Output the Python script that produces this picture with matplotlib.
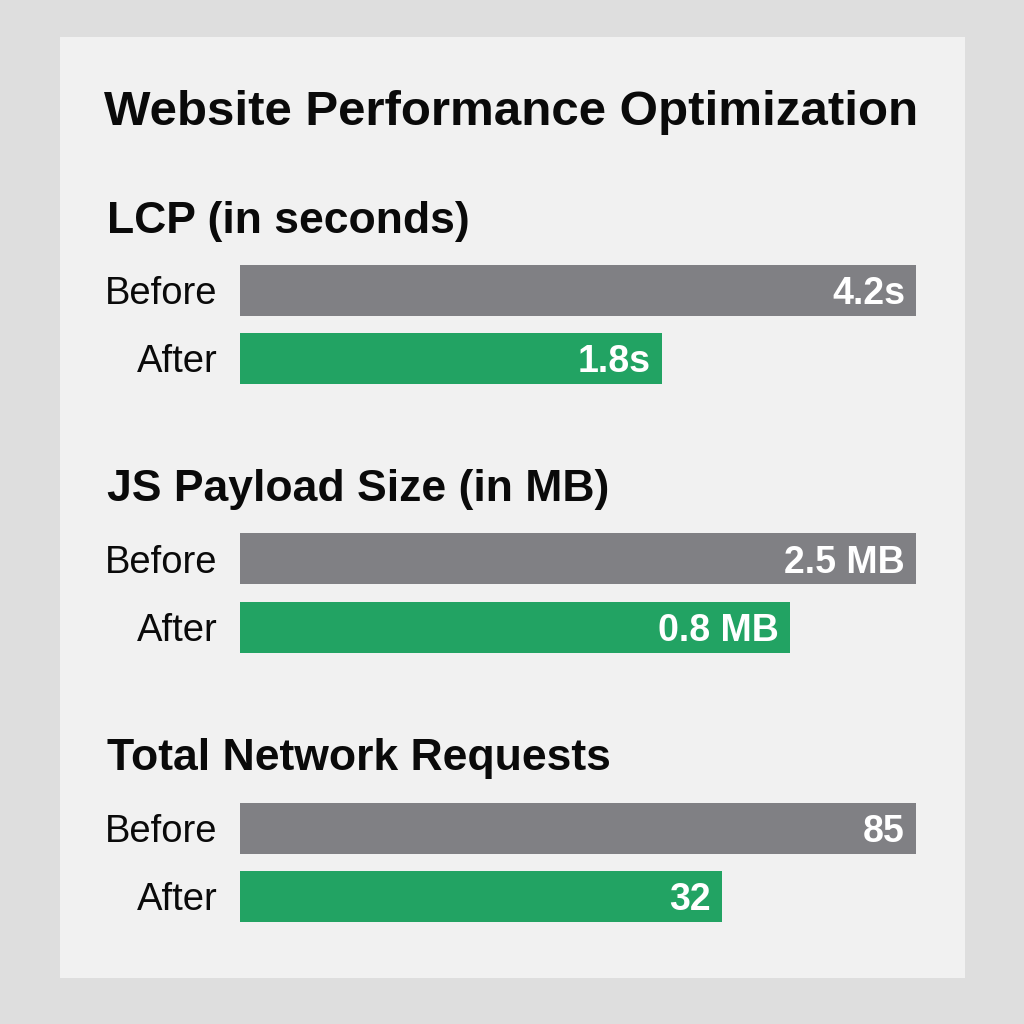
import matplotlib
matplotlib.use("Agg")
import matplotlib.pyplot as plt
from matplotlib.patches import Rectangle

# ---- data ----
title = "Website Performance Optimization"
sections = ["LCP (in seconds)", "JS Payload Size (in MB)", "Total Network Requests"]
categories = ["Before", "After"]
lcp_values = [4.2, 1.8]
js_values = [2.5, 0.8]
req_values = [85, 32]
lcp_labels = ["4.2s", "1.8s"]
js_labels = ["2.5 MB", "0.8 MB"]
req_labels = ["85", "32"]
# bar lengths as drawn in the reference (percent of the longest bar)
lcp_bar = [100, 62.4]
js_bar = [100, 81.4]
req_bar = [100, 71.3]

GRAY = "#808084"
GREEN = "#22a363"
FONT = "Liberation Sans"

W = H = 1024
fig = plt.figure(figsize=(10.24, 10.24), dpi=100)
fig.patch.set_facecolor("#dedede")

def fx(px):
    return px / W

def fy(py):
    return 1 - py / H

# inner panel
fig.patches.append(Rectangle((fx(60), fy(978)), fx(965) - fx(60), fy(37) - fy(978),
                             transform=fig.transFigure, facecolor="#f1f1f1",
                             edgecolor="none", zorder=-10))

fig.text(fx(104), fy(125), title, fontsize=35.5, fontweight="bold", family=FONT,
         color="#0a0a0a", va="baseline", ha="left")

section_title_base = [233, 501, 770]
section_axes_top = [265, 533, 803]
section_axes_bot = [384, 653, 922]
bars = [lcp_bar, js_bar, req_bar]
labels = [lcp_labels, js_labels, req_labels]

for i in range(3):
    fig.text(fx(107), fy(section_title_base[i]), sections[i], fontsize=32,
             fontweight="bold", family=FONT, color="#0a0a0a", va="baseline", ha="left")
    top, bot = section_axes_top[i], section_axes_bot[i]
    ax = fig.add_axes([fx(240), fy(bot), fx(916) - fx(240), fy(top) - fy(bot)])
    ax.set_zorder(5)
    ax.set_facecolor("none")
    ypos = list(range(len(categories)))
    ax.barh(ypos, bars[i], height=0.75, color=[GRAY, GREEN], edgecolor="none")
    ax.set_xlim(0, 100)
    ax.set_ylim(1.375, -0.375)
    ax.set_yticks(ypos)
    ax.set_yticklabels(categories, fontsize=27.5, family=FONT, color="#0a0a0a")
    ax.tick_params(axis="y", length=0, pad=16)
    ax.set_xticks([])
    for s in ax.spines.values():
        s.set_visible(False)
    for y, v, lab in zip(ypos, bars[i], labels[i]):
        ax.annotate(lab, xy=(v, y), xytext=(-8, 0), textcoords="offset points",
                    ha="right", va="center_baseline", fontsize=27, fontweight="bold",
                    family=FONT, color="white")

fig.savefig("out.png", dpi=100, facecolor=fig.get_facecolor())
